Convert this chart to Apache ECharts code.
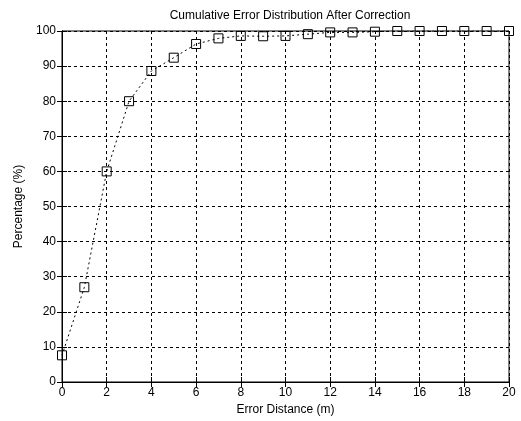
<!DOCTYPE html>
<html>
<head>
<meta charset="utf-8">
<script src="https://cdn.jsdelivr.net/npm/echarts@6/dist/echarts.min.js"></script>
<style>
  html, body { margin: 0; padding: 0; background: #fff; }
  #chart { width: 521px; height: 421px; }
</style>
</head>
<body>
<div id="chart"></div>
<script>
// error distance (m) and cumulative percentage
var distances = [0, 1, 2, 3, 4, 5, 6, 7, 8, 9, 10, 11, 12, 13, 14, 15, 16, 17, 18, 19, 20]
var percentages = [7.6, 27, 60, 80, 88.6, 92.4, 96.3, 97.9, 98.6, 98.5, 98.6, 99.1, 99.6, 99.6, 99.8, 100, 100, 100, 100, 100, 100]

var font = 'Liberation Sans, Arial, sans-serif'
var chart = echarts.init(document.getElementById('chart'))

var points = distances.map(function (d, i) { return [d, percentages[i]] })

var gridLine = { show: true, lineStyle: { color: '#000', type: [3, 3], width: 1 } }

chart.setOption({
  animation: false,
  title: {
    text: 'Cumulative Error Distribution After Correction',
    left: 285,
    textAlign: 'center',
    top: 5,
    textStyle: { fontFamily: font, fontSize: 12, fontWeight: 'normal', color: '#000' }
  },
  grid: {
    left: 62, right: 12, top: 31, bottom: 37,
    show: true, borderColor: '#000', borderWidth: 1, backgroundColor: 'transparent'
  },
  xAxis: [
    {
      type: 'value', min: 0, max: 20, interval: 2,
      name: 'Error Distance (m)', nameLocation: 'middle', nameGap: 22,
      nameTextStyle: { fontFamily: font, fontSize: 12, color: '#000' },
      axisLine: { show: true, lineStyle: { color: '#000' } },
      axisTick: { show: true, inside: true, length: 5, lineStyle: { color: '#000' } },
      axisLabel: { fontFamily: font, fontSize: 12, color: '#000', margin: 5 },
      splitLine: gridLine
    },
    {
      type: 'value', min: 0, max: 20, interval: 2, position: 'top',
      axisLine: { show: true, lineStyle: { color: '#000' } },
      axisTick: { show: true, inside: true, length: 5, lineStyle: { color: '#000' } },
      axisLabel: { show: false }, splitLine: { show: false }
    }
  ],
  yAxis: [
    {
      type: 'value', min: 0, max: 100, interval: 10,
      name: 'Percentage (%)', nameLocation: 'middle', nameGap: 36,
      nameTextStyle: { fontFamily: font, fontSize: 12, color: '#000' },
      axisLine: { show: true, lineStyle: { color: '#000' } },
      axisTick: { show: true, inside: true, length: 5, lineStyle: { color: '#000' } },
      axisLabel: { fontFamily: font, fontSize: 12, color: '#000', margin: 6 },
      splitLine: gridLine
    },
    {
      type: 'value', min: 0, max: 100, interval: 10, position: 'right',
      axisLine: { show: true, lineStyle: { color: '#000' } },
      axisTick: { show: true, inside: true, length: 5, lineStyle: { color: '#000' } },
      axisLabel: { show: false }, splitLine: { show: false }
    }
  ],
  series: [
    {
      type: 'line',
      data: points,
      symbol: 'rect',
      symbolSize: 9,
      itemStyle: { color: 'rgba(255,255,255,0)', borderColor: '#000', borderWidth: 1 },
      lineStyle: { color: '#000', width: 1, type: [2, 3] },
      z: 5
    }
  ]
})
</script>
</body>
</html>
